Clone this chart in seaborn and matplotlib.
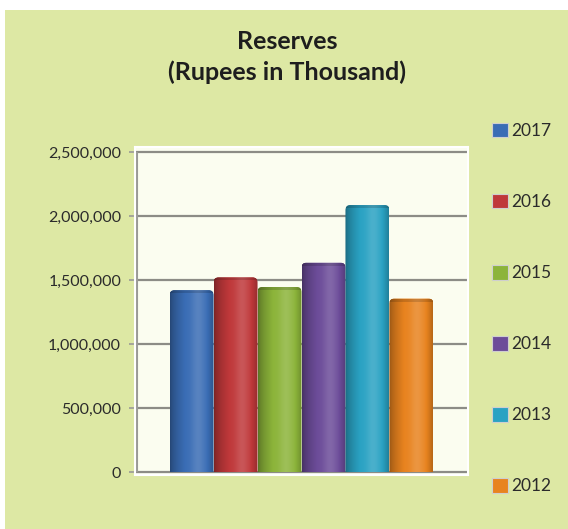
import numpy as np
import pandas as pd
import matplotlib
matplotlib.use("Agg")
import matplotlib.pyplot as plt
import matplotlib.patches as mpatches
import matplotlib.colors as mcolors
from matplotlib.ticker import FuncFormatter
import seaborn as sns

years = ["2017", "2016", "2015", "2014", "2013", "2012"]
reserves = [1420000, 1520000, 1445000, 1635000, 2085000, 1355000]
colors = ["#3A6DB5", "#BF383A", "#8CB43A", "#6C4C99", "#2AA2C3", "#E8831F"]
yticks = [0, 500000, 1000000, 1500000, 2000000, 2500000]
title = "Reserves\n(Rupees in Thousand)"

df = pd.DataFrame({"group": ["Reserves"] * len(years), "year": years, "value": reserves})

sns.set_theme(style="white")
plt.rcParams["font.family"] = ["Lato", "DejaVu Sans"]

W, H = 568, 529
fig = plt.figure(figsize=(W / 100, H / 100), dpi=100, facecolor="white")
# green panel background (white margin at top and left)
bg = mpatches.Rectangle((5 / W, 0), 1, 1 - 10 / H, transform=fig.transFigure,
                        facecolor="#DDE8A4", edgecolor="none", zorder=-10)
fig.patches.append(bg)

ax_left, ax_right = 135 / W, 468 / W
ax_top, ax_bot = 147 / H, 475 / H
ax = fig.add_axes([ax_left, 1 - ax_bot, ax_right - ax_left, ax_bot - ax_top])
ax.set_zorder(5)
ax.set_facecolor("#FBFDF0")

sns.barplot(data=df, x="group", y="value", hue="year", hue_order=years,
            palette=colors, width=0.8, saturation=1, ax=ax, legend=False,
            edgecolor="none", linewidth=0)

xlim = (-0.505, 0.505)
# px -> data scale: 64 px per 500,000
per_py = 500000 / 64
per_px = (xlim[1] - xlim[0]) / (468 - 135)
ylim = (-3 * per_py, 2500000 + 5 * per_py)

# cylinder-like shading on each bar, with rounded top corners
prof = np.linspace(0, 1, 200)
light = (0.62 + 0.38 * np.clip(prof / 0.35, 0, 1) ** 0.6
         + 0.15 * np.exp(-((prof - 0.64) / 0.16) ** 2)
         - 0.22 * np.clip((prof - 0.8) / 0.2, 0, 1) ** 1.5)
bar_patches = list(ax.patches)
for patch, col in zip(bar_patches, colors):
    base = np.array(mcolors.to_rgb(col))
    x0 = patch.get_x(); w = patch.get_width(); h = patch.get_height()
    img = np.zeros((1, len(prof), 3))
    for i, l in enumerate(light):
        c = base * l if l <= 1 else base + (1 - base) * (l - 1)
        img[0, i] = np.clip(c, 0, 1)
    clip = mpatches.FancyBboxPatch((x0, -8 * per_py), w, h + 8 * per_py,
                                   boxstyle=f"round,pad=0,rounding_size={5 * per_px}",
                                   mutation_aspect=per_py / per_px,
                                   facecolor="none", edgecolor="none")
    ax.add_patch(clip)
    im = ax.imshow(img, extent=(x0, x0 + w, 0, h), aspect="auto", zorder=3,
                   interpolation="bicubic")
    im.set_clip_path(clip)
    # subtle darker rim at the cylinder's top
    rim = ax.imshow(np.clip(img * 0.85, 0, 1), extent=(x0, x0 + w, h - 3 * per_py, h),
                    aspect="auto", zorder=4, interpolation="bicubic")
    rim.set_clip_path(clip)
    patch.set_alpha(0)
ax.set_ylim(*ylim)
ax.set_xlim(*xlim)

ax.set_yticks(yticks)
ax.yaxis.set_major_formatter(FuncFormatter(lambda v, p: f"{int(v):,}"))
ax.yaxis.grid(True, color="#8C8C86", linewidth=1.6)
ax.set_axisbelow(True)
ax.tick_params(axis="y", length=4, width=1.2, color="#9A9A96", labelsize=11.5,
               labelcolor="#2B2B2B", pad=6, left=True)
ax.set_xticks([])
ax.set_xlabel("")
ax.set_ylabel("")
for s in ax.spines.values():
    s.set_color("white")
    s.set_linewidth(1.5)
ax.vlines(xlim[0] + 2 * per_px, 0, 2500000, color="#9A9A96", linewidth=1.5, zorder=1)

fig.text(287 / W, 1 - 57 / H, title, ha="center", va="center", fontsize=18,
         fontweight="bold", color="#1E1E1E", linespacing=1.4)

handles = [mpatches.Patch(facecolor=c, edgecolor="#CFCFCF", linewidth=0.8) for c in colors]
fig.legend(handles, years, loc="upper left", bbox_to_anchor=(492 / W, 1 - 123 / H),
           bbox_transform=fig.transFigure, frameon=False, fontsize=12.5,
           labelspacing=3.16, handlelength=0.9, handleheight=0.9, handletextpad=0.2,
           labelcolor="#2B2B2B", borderaxespad=0, borderpad=0)

fig.savefig("out.png", dpi=100, facecolor="white")
